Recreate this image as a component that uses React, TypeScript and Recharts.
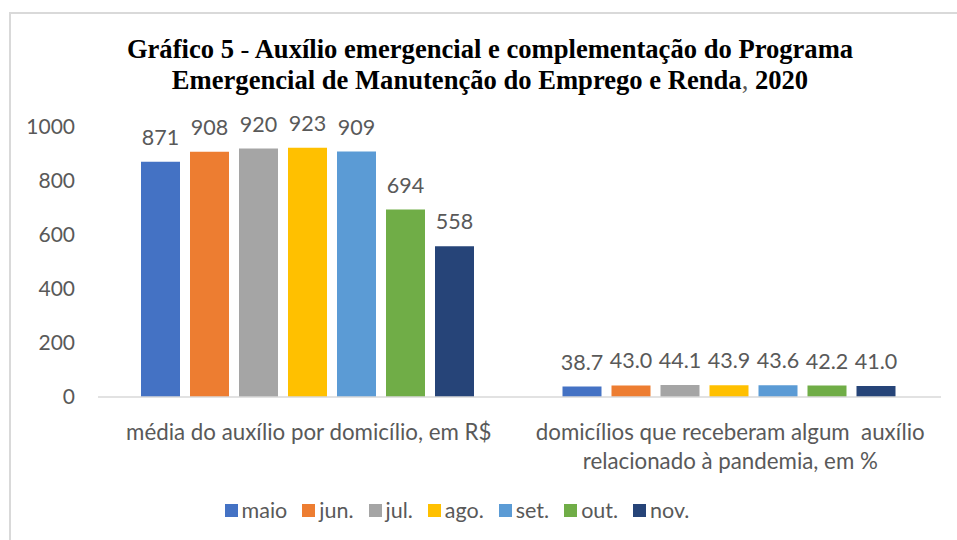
import { BarChart, Bar, XAxis, YAxis, LabelList } from "recharts";

const categories = [
  "média do auxílio por domicílio, em R$",
  "domicílios que receberam algum  auxílio|relacionado à pandemia, em %",
];
const months = ["maio", "jun.", "jul.", "ago.", "set.", "out.", "nov."];
const colors = ["#4472C4", "#ED7D31", "#A5A5A5", "#FFC000", "#5B9BD5", "#70AD47", "#264478"];
const maio = [871, 38.7];
const jun = [908, 43.0];
const jul = [920, 44.1];
const ago = [923, 43.9];
const set = [909, 43.6];
const out = [694, 42.2];
const nov = [558, 41.0];
const yTicks = [0, 200, 400, 600, 800, 1000];

const seriesValues = [maio, jun, jul, ago, set, out, nov];
const data = categories.map((name, i) => {
  const row: Record<string, string | number> = { name };
  months.forEach((m, j) => {
    row[m] = seriesValues[j][i];
  });
  return row;
});

const TEXT = "#595959";
const FONT = "Lato, 'Open Sans', sans-serif";

function CategoryTick({ x, y, payload }: any) {
  const lines = String(payload.value).split("|");
  return (
    <g transform={`translate(${x},${y})`}>
      {lines.map((l, i) => (
        <text key={i} x={0} y={35 + i * 29} textAnchor="middle" fill={TEXT} fontSize={22.3} fontFamily={FONT} style={{ whiteSpace: "pre" }}>
          {l}
        </text>
      ))}
    </g>
  );
}

const fmt = (v: any) => (Number(v) < 100 ? Number(v).toFixed(1) : String(v));

export default function App() {
  return (
    <div style={{ position: "absolute", left: 0, top: 0, width: 957, height: 540, background: "#fff", fontFamily: FONT }}>
      <div style={{ position: "absolute", left: 9, top: 12, width: 2, height: 528, background: "#d9d9d9" }} />
      <div style={{ position: "absolute", left: 9, top: 12, width: 948, height: 2, background: "#d9d9d9" }} />
      <div
        style={{
          position: "absolute",
          left: 0,
          width: 980,
          top: 34,
          textAlign: "center",
          fontFamily: "'Liberation Serif', 'Times New Roman', serif",
          fontWeight: "bold",
          fontSize: 26.6,
          lineHeight: "31px",
          color: "#000",
        }}
      >
        Gráfico 5 <span style={{ fontWeight: "normal" }}>-</span> Auxílio emergencial e complementação do Programa
        <br />
        Emergencial de Manutenção do Emprego e Renda<span style={{ fontWeight: "normal", color: "#595959" }}>,</span> 2020
      </div>
      <div style={{ position: "absolute", left: 0, top: 0 }}>
        <BarChart width={957} height={540} data={data} margin={{ top: 127, right: 16, bottom: 83, left: 0 }} barCategoryGap={43} barGap={10}>
          <XAxis dataKey="name" axisLine={{ stroke: "#d9d9d9", strokeWidth: 1.5 }} tickLine={false} height={60} tick={<CategoryTick />} interval={0} />
          <YAxis
            domain={[0, 1000]}
            ticks={yTicks}
            width={98}
            axisLine={false}
            tickLine={false}
            tickMargin={17}
            tick={{ fill: TEXT, fontSize: 21, fontFamily: FONT }}
          />
          {months.map((m, j) => (
            <Bar key={m} dataKey={m} fill={colors[j]} isAnimationActive={false}>
              <LabelList dataKey={m} position="top" offset={17} formatter={fmt} fill={TEXT} fontSize={21.5} fontFamily={FONT} />
            </Bar>
          ))}
        </BarChart>
      </div>
      <div style={{ position: "absolute", left: 0, width: 914, top: 497, display: "flex", justifyContent: "center", gap: 15, fontSize: 21.5, color: TEXT }}>
        {months.map((m, j) => (
          <div key={m} style={{ display: "flex", alignItems: "center", gap: 4 }}>
            <div style={{ width: 13, height: 13, background: colors[j] }} />
            <span>{m}</span>
          </div>
        ))}
      </div>
    </div>
  );
}
